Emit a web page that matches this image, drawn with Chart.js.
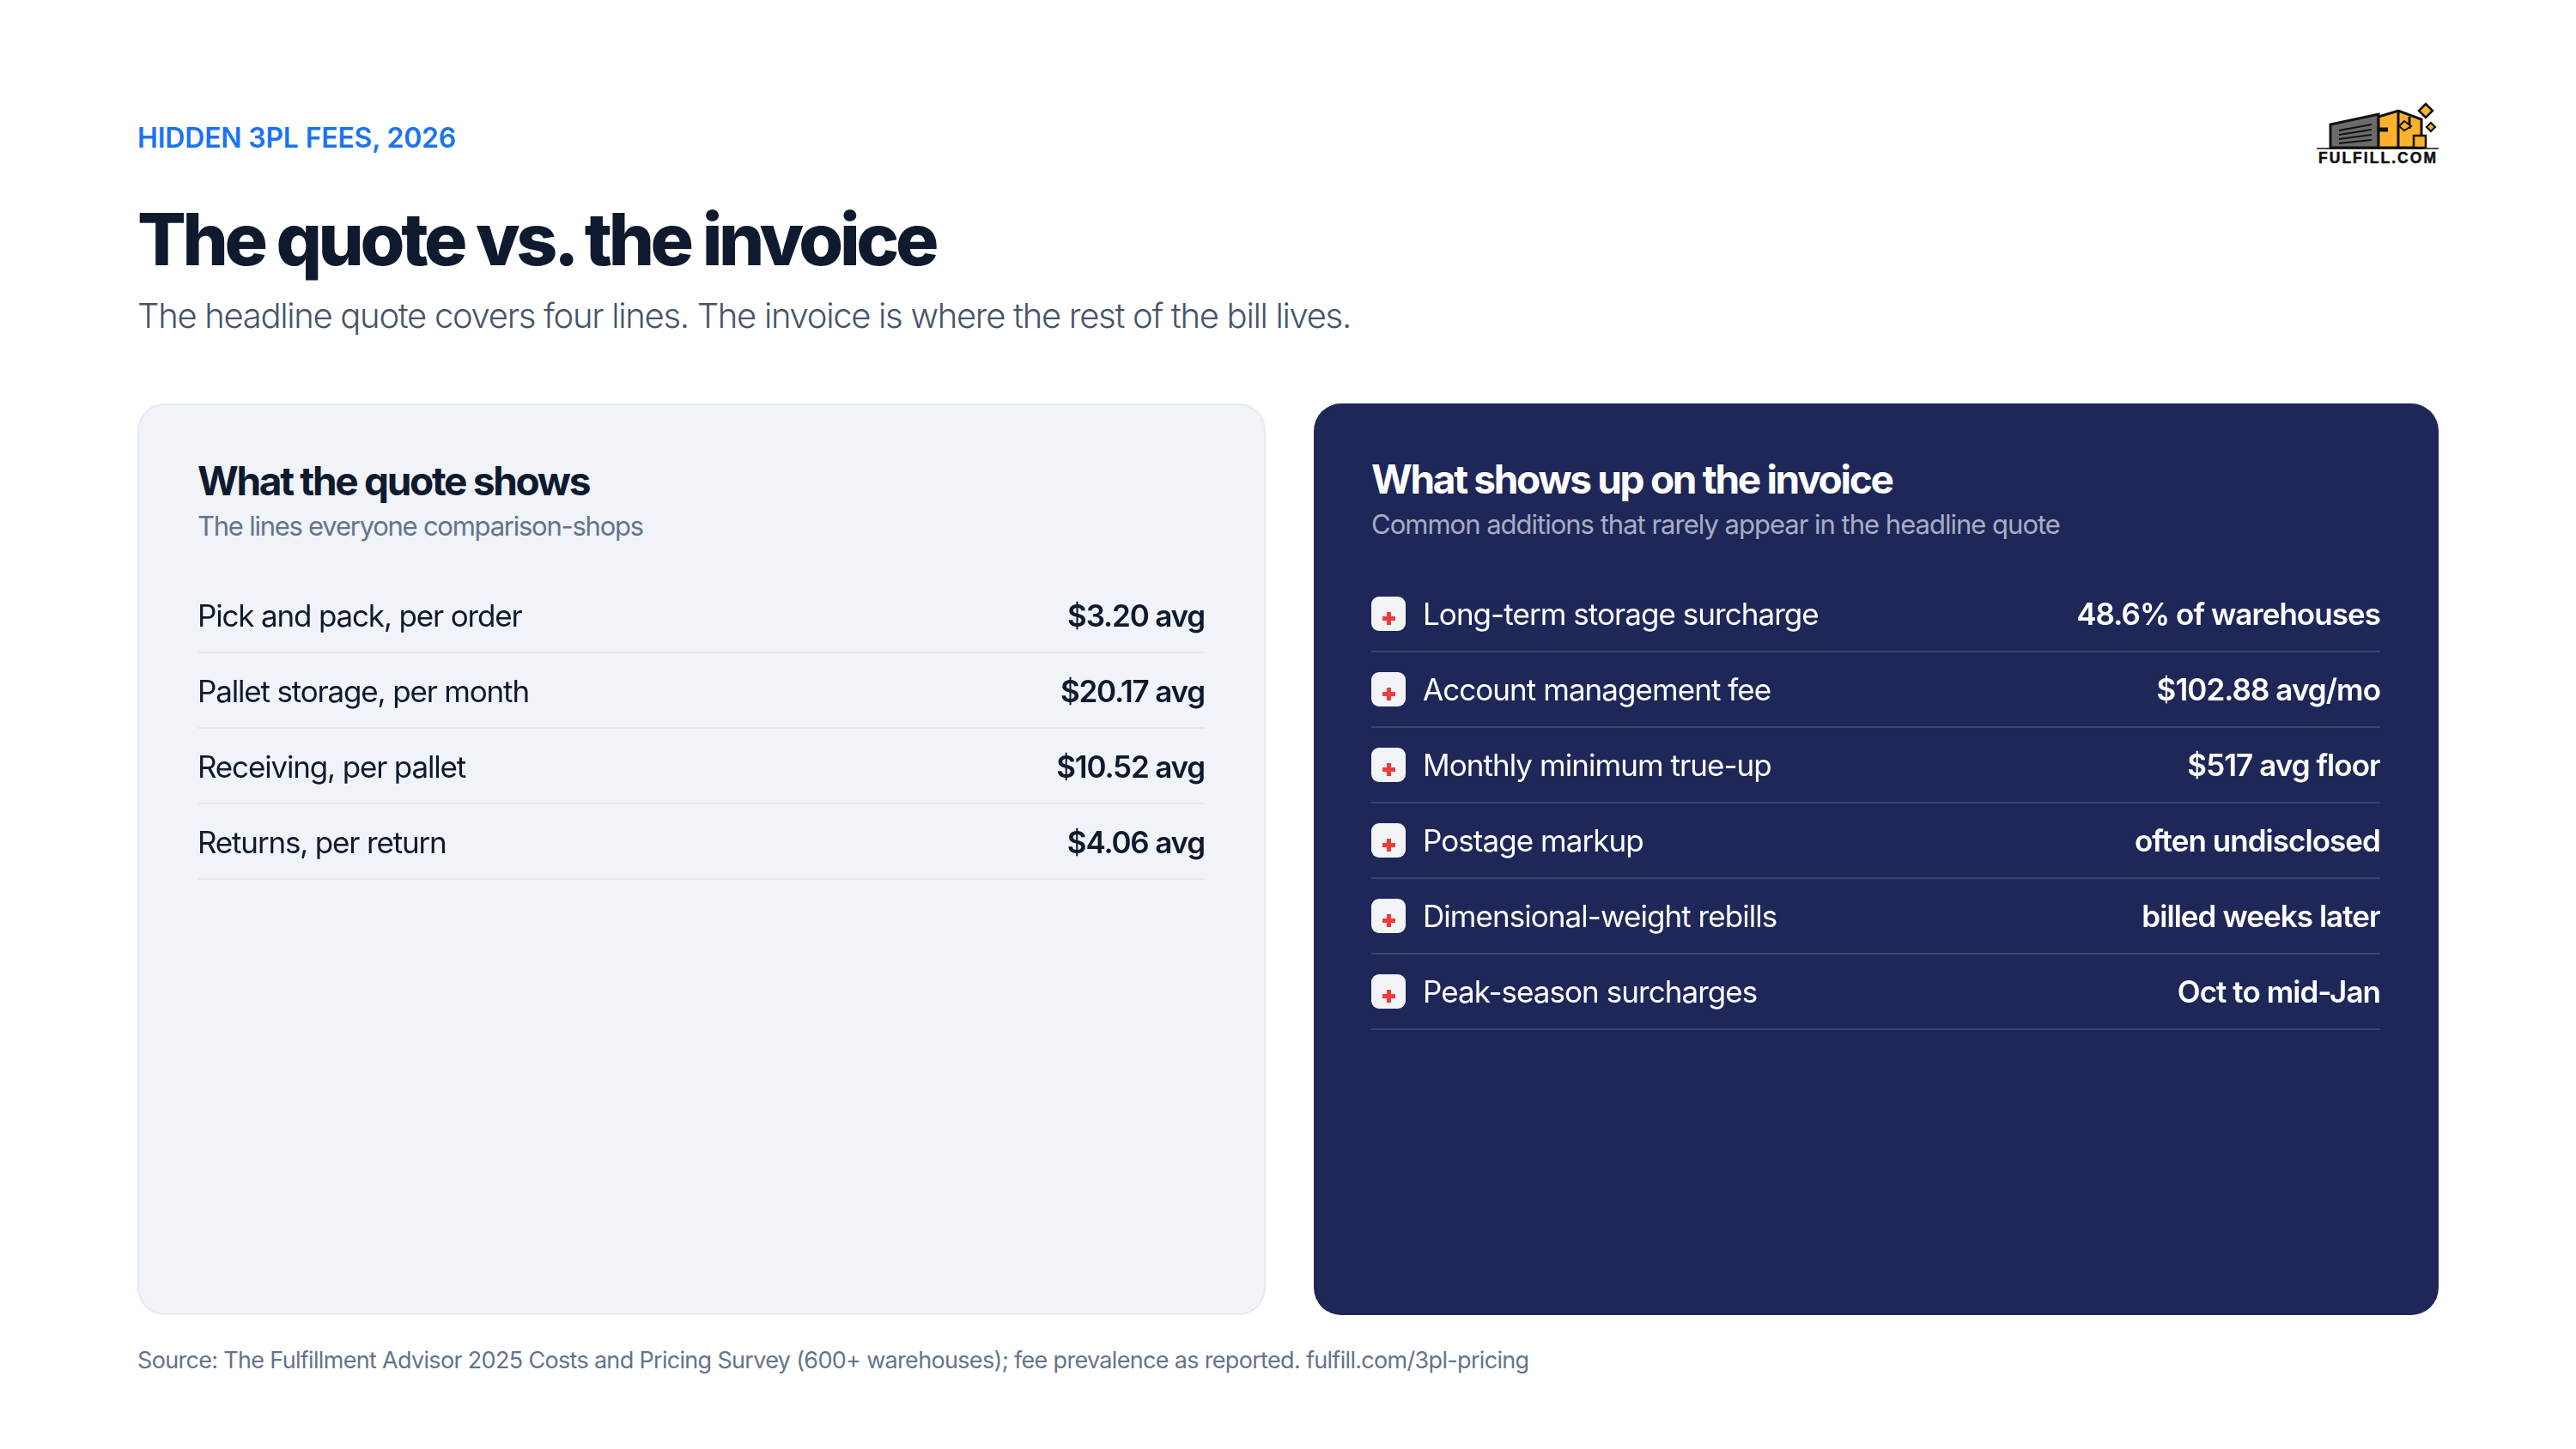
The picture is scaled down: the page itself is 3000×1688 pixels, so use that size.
<!DOCTYPE html>
<html>
<head>
<meta charset="utf-8">
<title>The quote vs. the invoice</title>
<script src="https://cdn.jsdelivr.net/npm/chart.js@4"></script>
<style>
  html, body { margin: 0; background: #fff; }
  body { width: 3000px; height: 1688px; position: relative; overflow: hidden; font-family: Inter, sans-serif; }
  .t { position: absolute; white-space: nowrap; line-height: 1; }
  .card { position: absolute; box-sizing: border-box; top: 470px; height: 1062px; border-radius: 32px; }
  canvas { position: absolute; }
  #eyebrow { left: 160px; top: 145px; font-size: 32px; font-weight: 600; color: #1a73f5; letter-spacing: -0.2px; }
  #title { left: 160px; top: 237px; font-size: 84px; font-weight: 800; color: #0f1a2e; letter-spacing: -4.4px; }
  #subtitle { left: 160px; top: 348px; font-size: 40px; font-weight: 300; color: #475569; letter-spacing: -1.3px; }
  #source { left: 160px; top: 1571px; font-size: 27px; color: #64748b; letter-spacing: -0.68px; }
  .h { font-size: 46px; font-weight: 700; letter-spacing: -2.3px; }
  .s { font-size: 31px; letter-spacing: -1.1px; }
</style>
</head>
<body>
<div class="t" id="eyebrow">HIDDEN 3PL FEES, 2026</div>
<div class="t" id="title">The quote vs. the invoice</div>
<div class="t" id="subtitle">The headline quote covers four lines. The invoice is where the rest of the bill lives.</div>

<svg style="position:absolute;left:2680px;top:100px" width="200" height="110" viewBox="0 0 200 110">
  <path d="M34 72V45L90 33V72Z" fill="#6b6b6b" stroke="#111" stroke-width="3"/>
  <path d="M44 52L82 45M44 57L82 51M44 62L82 57M44 67L82 63" stroke="#111" stroke-width="2.2"/>
  <path d="M90 36L113 29L140 39V72H90Z" fill="#fbb22f" stroke="#111" stroke-width="3"/>
  <path d="M113 29V72M126 36V50" stroke="#111" stroke-width="3"/>
  <path d="M91 51H101" stroke="#111" stroke-width="5"/>
  <rect x="131" y="58" width="14" height="14" fill="#fbb22f" stroke="#111" stroke-width="2.5"/>
  <path d="M120 41L128 47L120 52L114 47Z" fill="#fbb22f" stroke="#111" stroke-width="2"/>
  <path d="M145 21L153 29L145 37L137 29Z" fill="#fbb22f" stroke="#111" stroke-width="2.5"/>
  <path d="M151 43L156 48L151 53L146 48Z" fill="#fbb22f" stroke="#111" stroke-width="2.2"/>
  <path d="M18 73H160" stroke="#111" stroke-width="1.5"/>
  <text x="20" y="90" font-family="Liberation Sans, sans-serif" font-weight="700" font-size="17.5" fill="#111" stroke="#111" stroke-width="0.5" textLength="137">FULFILL.COM</text>
</svg>

<div class="card" style="left:160px;width:1314px;background:#f0f3f8;border:2px solid #e8eaee"></div>
<div class="card" style="left:1530px;width:1310px;background:#1f2759"></div>

<div class="t h" style="left:230px;top:537px;color:#0f1a2e">What the quote shows</div>
<div class="t s" style="left:230px;top:597px;color:#64748b;letter-spacing:-1.25px">The lines everyone comparison-shops</div>
<div class="t h" style="left:1597px;top:535px;color:#fff">What shows up on the invoice</div>
<div class="t s" style="left:1597px;top:595px;color:#a9adc4;letter-spacing:-1px">Common additions that rarely appear in the headline quote</div>

<canvas id="quoteChart" style="left:230px;top:672px" width="1173" height="354"></canvas>
<canvas id="invoiceChart" style="left:1597px;top:671px" width="1175" height="530"></canvas>

<div class="t" id="source">Source: The Fulfillment Advisor 2025 Costs and Pricing Survey (600+ warehouses); fee prevalence as reported. fulfill.com/3pl-pricing</div>

<script>
const quoteLines = ["Pick and pack, per order", "Pallet storage, per month", "Receiving, per pallet", "Returns, per return"];
const quoteValues = ["$3.20 avg", "$20.17 avg", "$10.52 avg", "$4.06 avg"];
const invoiceLines = ["Long-term storage surcharge", "Account management fee", "Monthly minimum true-up", "Postage markup", "Dimensional-weight rebills", "Peak-season surcharges"];
const invoiceValues = ["48.6% of warehouses", "$102.88 avg/mo", "$517 avg floor", "often undisclosed", "billed weeks later", "Oct to mid-Jan"];

const FONT = "Inter, sans-serif";

// white rounded tile with the red plus, used as the point style
function plusIcon() {
  const c = document.createElement("canvas");
  c.width = 40;
  c.height = 40;
  const g = c.getContext("2d");
  g.fillStyle = "#f3f4f7";
  g.beginPath();
  g.roundRect(0, 0, 40, 40, 9);
  g.fill();
  g.fillStyle = "#ef3b3b";
  g.fillRect(18, 18, 5, 15);
  g.fillRect(13, 23, 15, 5);
  return c;
}

// mirrored axes should take no room, the rows fill the whole canvas
function flatAxis(scale) {
  scale.width = 0;
  scale.paddingTop = 0;
  scale.paddingBottom = 0;
}

function rowChart(id, lines, values, o) {
  const tickFont = (weight) => ({ family: FONT, size: 35, weight });
  return new Chart(document.getElementById(id), {
    type: "scatter",
    data: {
      datasets: [{
        data: o.icon ? lines.map((l) => ({ x: 0, y: l })) : [],
        pointStyle: o.icon,
        pointRadius: 20,
        clip: false,
      }],
    },
    options: {
      responsive: false,
      animation: false,
      devicePixelRatio: 1,
      layout: { autoPadding: false, padding: { bottom: 2 } },
      plugins: { legend: { display: false }, tooltip: { enabled: false } },
      scales: {
        x: { type: "linear", display: false, min: o.xMin, max: o.xMin + 1175 },
        y: {
          type: "category",
          labels: lines,
          offset: true,
          afterFit: flatAxis,
          border: { display: false },
          grid: {
            offset: true,
            drawTicks: false,
            lineWidth: 2,
            color: (c) => (c.index === 0 ? "rgba(0,0,0,0)" : o.rule),
          },
          ticks: { mirror: true, padding: o.labelPad, labelOffset: o.labelDrop, color: o.text, font: tickFont("400") },
        },
        y2: {
          type: "category",
          position: "right",
          labels: values,
          offset: true,
          display: true,
          afterFit: flatAxis,
          border: { display: false },
          grid: { display: false, drawTicks: false },
          ticks: { mirror: true, padding: 0, labelOffset: o.labelDrop, color: o.text, font: tickFont("600") },
        },
      },
    },
    plugins: [{
      id: "tightText",
      beforeDraw(chart) {
        chart.ctx.letterSpacing = o.spacing;
      },
    }],
  });
}

rowChart("quoteChart", quoteLines, quoteValues, {
  text: "#0f1a2e",
  rule: "#e6e8ed",
  labelPad: 0,
  labelDrop: 3,
  spacing: "-1.17px",
  xMin: 0,
});
rowChart("invoiceChart", invoiceLines, invoiceValues, {
  text: "#ffffff",
  rule: "rgba(255,255,255,0.14)",
  labelPad: 60,
  labelDrop: 2,
  spacing: "-0.95px",
  xMin: -20,
  icon: plusIcon(),
});
</script>
</body>
</html>
